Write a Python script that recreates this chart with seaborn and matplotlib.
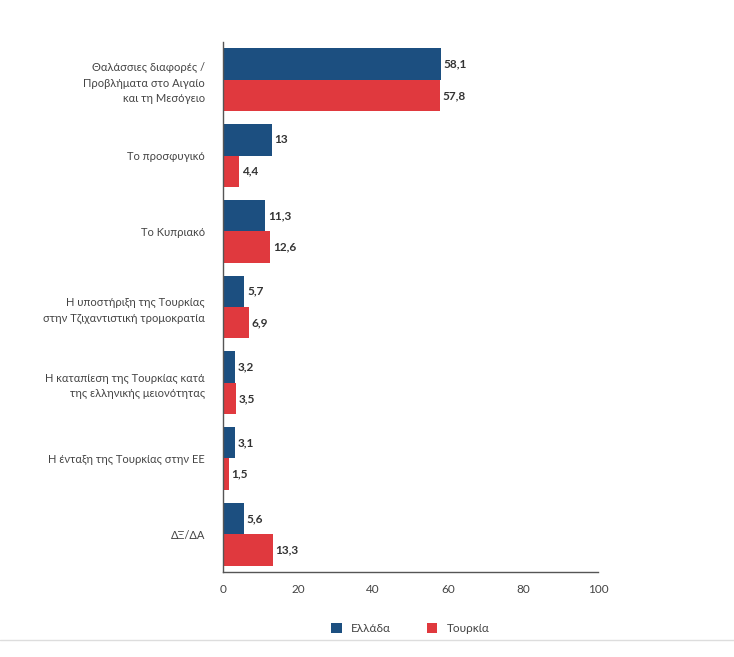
import matplotlib
matplotlib.use("Agg")
import matplotlib.pyplot as plt
import seaborn as sns
import pandas as pd
import numpy as np

categories = [
    "Θαλάσσιες διαφορές /\nΠροβλήματα στο Αιγαίο\nκαι τη Μεσόγειο",
    "Το προσφυγικό",
    "Το Κυπριακό",
    "Η υποστήριξη της Τουρκίας\nστην Τζιχαντιστική τρομοκρατία",
    "Η καταπίεση της Τουρκίας κατά\nτης ελληνικής μειονότητας",
    "Η ένταξη της Τουρκίας στην ΕΕ",
    "ΔΞ/ΔΑ",
]
greece = [58.1, 13, 11.3, 5.7, 3.2, 3.1, 5.6]
turkey = [57.8, 4.4, 12.6, 6.9, 3.5, 1.5, 13.3]
series = ["Ελλάδα", "Τουρκία"]
colors = ["#1c4f80", "#e0393e"]
xticks = [0, 20, 40, 60, 80, 100]

df = pd.DataFrame({
    "cat": categories * 2,
    "value": greece + turkey,
    "country": [series[0]] * len(categories) + [series[1]] * len(categories),
})

sns.set_style("white")
plt.rcParams["font.family"] = ["Lato", "DejaVu Sans"]

fig = plt.figure(figsize=(7.34, 6.57), dpi=100)
ax = fig.add_axes([0.3038, 0.1294, 0.5109, 0.8066])

sns.barplot(data=df, y="cat", x="value", hue="country", order=categories,
            hue_order=series, palette=colors, width=0.83, saturation=1,
            orient="h", ax=ax, legend=True, linewidth=0)

for cont in ax.containers:
    labels = [f"{v:g}".replace(".", ",") for v in cont.datavalues]
    ax.bar_label(cont, labels=labels, padding=2, fontsize=8.5, fontweight="bold",
                 color="#333333")

ax.set_xlim(0, 100)
ax.set_ylim(len(categories) - 0.5, -0.5)
ax.set_xticks(xticks)
ax.set_xlabel("")
ax.set_ylabel("")
ax.tick_params(axis="x", direction="in", length=4, color="#555555",
               labelsize=8.5, labelcolor="#444444", pad=9)
ax.tick_params(axis="y", which="major", length=0, labelsize=8,
               labelcolor="#444444", pad=13)
ax.set_yticks(np.arange(len(categories) + 1) - 0.5, minor=True)
ax.tick_params(axis="y", which="minor", direction="out", length=3, color="#555555")
for lab in ax.get_yticklabels():
    lab.set_multialignment("right")
    lab.set_linespacing(1.5)

sns.despine(ax=ax, top=True, right=True)
for s in ["left", "bottom"]:
    ax.spines[s].set_color("#555555")
    ax.spines[s].set_linewidth(1)

ax.legend(loc="upper center", bbox_to_anchor=(0.5, -0.077), ncol=2, frameon=False,
          fontsize=8.5, handlelength=0.9, handleheight=0.9, columnspacing=3,
          handletextpad=0.8, labelcolor="#444444")

fig.add_artist(plt.Line2D([0, 1], [1 - 640 / 657, 1 - 640 / 657],
                          color="#dddddd", lw=1, transform=fig.transFigure))

fig.savefig("out.png", dpi=100, facecolor="white")
